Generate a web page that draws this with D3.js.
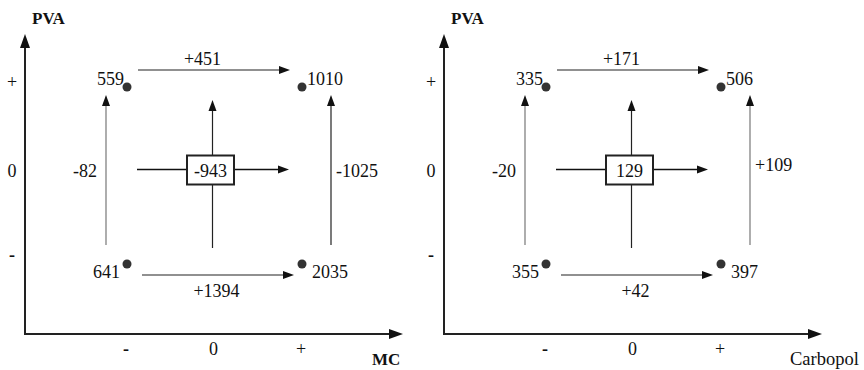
<!DOCTYPE html>
<html>
<head>
<meta charset="utf-8">
<script src="https://cdn.jsdelivr.net/npm/d3@7"></script>
<style>
  body { margin: 0; background: #fff; }
</style>
</head>
<body>
<div id="chart"></div>
<script>
// factor levels shown on both axes
var levels = ["-", "0", "+"];
var levelValues = [-1, 0, 1];

// one panel per second factor (x axis), PVA is always on the y axis
var xFactors = ["MC", "Carbopol"];
var yFactor = "PVA";

// corner responses, order: (x-,y-), (x+,y-), (x-,y+), (x+,y+)
var mcCorners = [641, 2035, 559, 1010];
var carbopolCorners = [355, 397, 335, 506];

// interaction value in the centre box
var centerValues = [-943, 129];

// main effects: top edge, bottom edge, left edge, right edge
var mcEffects = ["+451", "+1394", "-82", "-1025"];
var carbopolEffects = ["+171", "+42", "-20", "+109"];

var panels = [
    {xName: xFactors[0], corners: mcCorners, center: centerValues[0], effects: mcEffects, bold: true},
    {xName: xFactors[1], corners: carbopolCorners, center: centerValues[1], effects: carbopolEffects, bold: false}
];

var width = 864, height = 370;
var origins = [25, 444];
var axisY = 334;
var serif = "'Liberation Serif', 'Times New Roman', Times, 'DejaVu Serif', serif";

var svg = d3.select("#chart").append("svg")
    .attr("width", width)
    .attr("height", height)
    .attr("font-family", serif);

svg.append("rect").attr("width", width).attr("height", height).attr("fill", "#fff");

// line with a filled triangular head at (x2, y2)
function arrow(g, x1, y1, x2, y2, len, half, sw, col) {
    var dx = x2 - x1, dy = y2 - y1;
    var d = Math.sqrt(dx * dx + dy * dy);
    var ux = dx / d, uy = dy / d;
    var bx = x2 - ux * len, by = y2 - uy * len;
    g.append("line")
        .attr("x1", x1).attr("y1", y1)
        .attr("x2", bx + ux * 1).attr("y2", by + uy * 1)
        .attr("stroke", col)
        .attr("stroke-width", sw);
    g.append("path")
        .attr("d", "M" + x2 + "," + y2 +
            "L" + (bx - uy * half) + "," + (by + ux * half) +
            "L" + (bx + uy * half) + "," + (by - ux * half) + "Z")
        .attr("fill", "#111");
}

function label(g, tx, ty, anchor, size, str) {
    return g.append("text")
        .attr("x", tx).attr("y", ty)
        .attr("text-anchor", anchor)
        .attr("font-family", serif)
        .attr("fill", "#111")
        .style("font-size", size + "px")
        .text(str);
}

panels.forEach(function(p, i) {
    var ox = origins[i];
    var g = svg.append("g");

    var x = d3.scaleLinear().domain([-1, 1]).range([ox + 102, ox + 277]);
    var y = d3.scaleLinear().domain([-1, 1]).range([264, 87]);

    // axes
    arrow(g, ox, axisY + 1, ox, 34, 14, 5, 2, "#222");
    arrow(g, ox - 1, axisY, ox + 378, axisY, 14, 5, 2, "#222");

    label(g, ox + 7, 24, "start", 17, yFactor).style("font-weight", "bold");

    label(g, p.bold ? ox + 347 : ox + 346, 365, "start", p.bold ? 17 : 18.5, p.xName)
        .style("font-weight", p.bold ? "bold" : "normal");

    // tick labels
    levelValues.forEach(function(d, k) {
        label(g, ox - 13, y(d) + (d === -1 ? -3 : 1), "middle", 18, levels[k])
            .style("font-weight", d === -1 ? "bold" : "normal");
        label(g, x(d) - 1, 355, "middle", 18, levels[k])
            .style("font-weight", d === -1 ? "bold" : "normal");
    });

    var lightCol = "#777", darkCol = "#222";

    // edge arrows
    arrow(g, x(-1) + 11, y(1) - 17, x(1) - 12, y(1) - 17, 11, 4, 1.2, darkCol);
    arrow(g, x(-1) + 15, y(-1) + 11, x(1) - 8, y(-1) + 11, 11, 4, 1.2, darkCol);
    arrow(g, x(-1) - 21, y(-1) - 19, x(-1) - 21, y(1) + 8, 11, 4, 1.2, lightCol);
    arrow(g, x(1) + 29, y(-1) - 19, x(1) + 29, y(1) + 8, 11, 4, 1.2, i === 0 ? darkCol : lightCol);

    // centre cross
    var cy = y(0) - 6;
    arrow(g, x(0) - 2, y(-1) - 16, x(0) - 2, y(1) + 13, 11, 4, 1.2, darkCol);
    arrow(g, x(-1) + 10, cy, x(1) - 13, cy, 11, 4, 1.5, "#111");

    g.append("rect")
        .attr("x", x(0) - 4 - 23.5).attr("y", cy - 14)
        .attr("width", 47).attr("height", 29)
        .attr("fill", "#fff")
        .attr("stroke", "#222")
        .attr("stroke-width", 2);
    label(g, x(0) - 4, cy + 7, "middle", 18, p.center);

    // edge labels
    label(g, (x(-1) + x(1)) / 2 - 12, y(1) - 22, "middle", 18, p.effects[0]);
    label(g, (x(-1) + x(1)) / 2 + 2, y(-1) + 33, "middle", 18, p.effects[1]);
    label(g, x(-1) - 30, cy + 7, "end", 18, p.effects[2]);
    label(g, x(1) + 34, cy + (i === 0 ? 7 : 1), "start", 18, p.effects[3]);

    // corner points
    var pts = [
        {xv: -1, yv: -1, v: p.corners[0], anchor: "end", dx: -7, dy: 14},
        {xv: 1, yv: -1, v: p.corners[1], anchor: "start", dx: 10, dy: 14},
        {xv: -1, yv: 1, v: p.corners[2], anchor: "end", dx: -3, dy: -2},
        {xv: 1, yv: 1, v: p.corners[3], anchor: "start", dx: 5, dy: -2}
    ];

    g.selectAll(".dot").data(pts).enter().append("circle")
        .attr("cx", function(d) { return x(d.xv); })
        .attr("cy", function(d) { return y(d.yv); })
        .attr("r", 4.5)
        .attr("fill", "#333");

    pts.forEach(function(d) {
        label(g, x(d.xv) + d.dx, y(d.yv) + d.dy, d.anchor, 18, d.v);
    });
});
</script>
</body>
</html>
